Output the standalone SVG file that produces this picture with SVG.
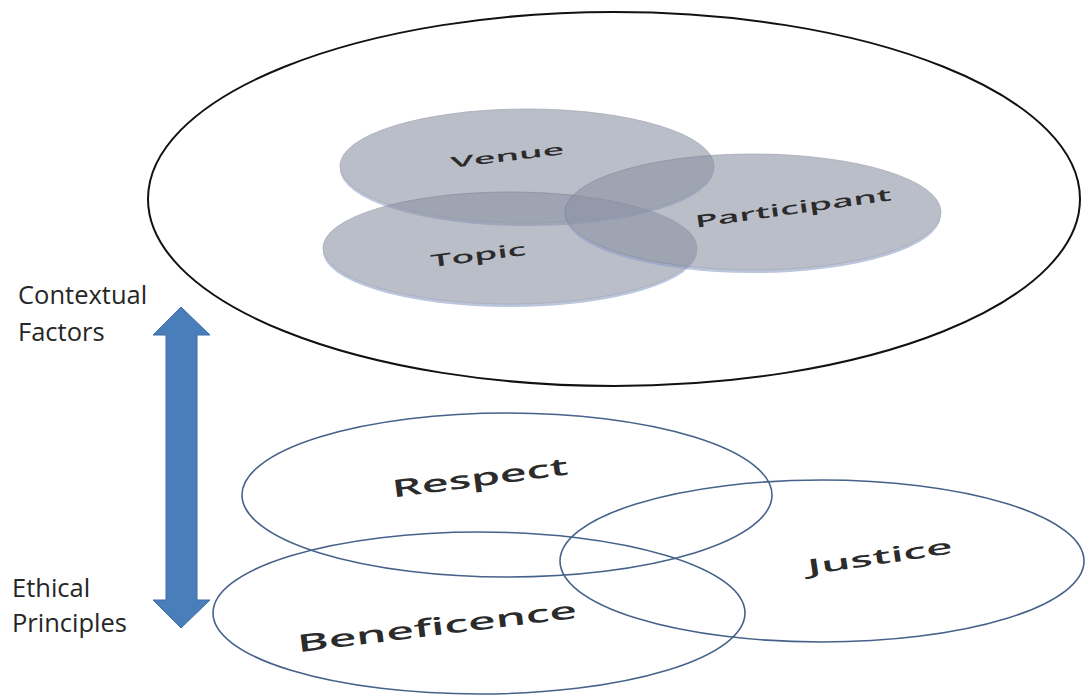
<svg xmlns="http://www.w3.org/2000/svg" width="1086" height="696" viewBox="0 0 1086 696">
<style>
.side{font-family:"Open Sans","Liberation Sans",sans-serif;font-size:25.5px;fill:#262626}
.lbl{font-family:"Open Sans","Liberation Sans",sans-serif;font-weight:600;fill:#2b2b2b;text-anchor:middle}
.disc{opacity:0.6}
.top{fill:#8d93a5;stroke:#6f7689;stroke-width:0.8}
.rim{fill:#8ea0c6}
.ring{fill:none;stroke:#46628a;stroke-width:1.6}
</style>
<rect width="1086" height="696" fill="#ffffff"/>
<g id="context-frame">
<ellipse cx="614" cy="199" rx="466" ry="187" fill="none" stroke="#111" stroke-width="2"/>
</g>
<g id="venue" class="disc">
<ellipse class="rim" cx="527" cy="169" rx="187" ry="57"/>
<ellipse class="top" cx="527" cy="166" rx="187" ry="57"/>
</g>
<g id="topic" class="disc">
<ellipse class="rim" cx="510" cy="251" rx="187" ry="56"/>
<ellipse class="top" cx="510" cy="248" rx="187" ry="56"/>
</g>
<g id="participant" class="disc">
<ellipse class="rim" cx="753" cy="215" rx="188" ry="58"/>
<ellipse class="top" cx="753" cy="212" rx="188" ry="58"/>
</g>
<g id="disc-labels">
<text class="lbl" font-size="15" transform="translate(508,161) rotate(-7) scale(2.5,1)">Venue</text>
<text class="lbl" font-size="17" transform="translate(479,261) rotate(-7.5) scale(2.2,1)">Topic</text>
<text class="lbl" font-size="17" transform="translate(794,214) rotate(-8) scale(2.2,1)">Participant</text>
</g>
<g id="respect">
<ellipse class="ring" cx="507" cy="495" rx="265" ry="82"/>
<text class="lbl" font-size="24" transform="translate(481,486) rotate(-7.5) scale(1.95,1)">Respect</text>
</g>
<g id="justice">
<ellipse class="ring" cx="822" cy="561" rx="262" ry="81"/>
<text class="lbl" font-size="21" transform="translate(881,564) rotate(-8.5) scale(2.2,1)">Justice</text>
</g>
<g id="beneficence">
<ellipse class="ring" cx="479" cy="613" rx="266" ry="81"/>
<text class="lbl" font-size="24" transform="translate(438,635) rotate(-7) scale(2.0,1)">Beneficence</text>
</g>
<g id="connectors">
<polygon points="181,307 210,335 197,335 197,600 210,600 181,628 153,600 166,600 166,335 153,335" fill="#4a7ebb" stroke="#3d6ca6" stroke-width="1"/>
</g>
<g id="side-labels">
<text class="side" x="18" y="304">Contextual</text>
<text class="side" x="18" y="341">Factors</text>
<text class="side" x="12" y="597">Ethical</text>
<text class="side" x="12" y="632">Principles</text>
</g>
</svg>
